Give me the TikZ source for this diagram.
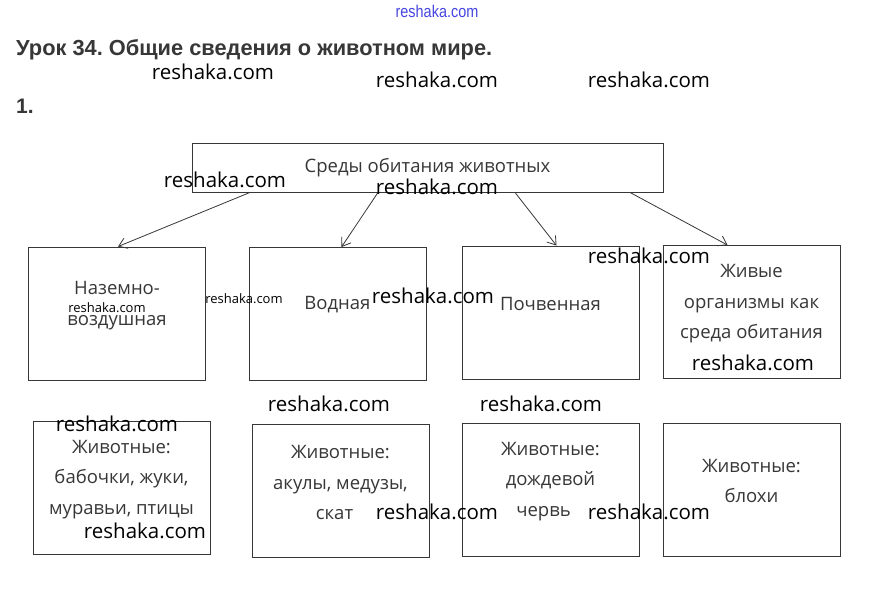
\documentclass[tikz,border=0pt]{standalone}
\usepackage{fontspec}
\setmainfont{Open Sans}
\newfontfamily\headfont{Liberation Sans}
\usepackage{xcolor}
\usepackage{tikz}
\usetikzlibrary{positioning,arrows.meta,calc}
\definecolor{inkgrey}{RGB}{55,55,55}
\definecolor{headgrey}{RGB}{55,55,55}
\definecolor{wmblue}{RGB}{70,70,225}
\tikzset{
  box/.style ={draw=inkgrey,line width=0.9pt,minimum width=177pt,minimum height=133pt,inner sep=0pt},
  txt/.style ={text=inkgrey,align=center,font=\fontsize{18.5}{30.5}\selectfont,inner sep=0pt},
  ar/.style  ={-{Straight Barb[length=8pt,width=11pt]},draw=inkgrey,line width=0.8pt},
  wm/.style  ={font=\fontsize{20.5}{22}\selectfont,text=black,inner sep=0pt},
  wms/.style ={font=\fontsize{13}{14}\selectfont,text=black,inner sep=0pt},
}
\frenchspacing

\begin{document}
\begin{tikzpicture}[x=1pt,y=-1pt]
\useasboundingbox[fill=white] (0,0) rectangle (871,593);

% heading
\node[font=\headfont\bfseries\fontsize{21.8}{24}\selectfont,text=headgrey,anchor=west,inner sep=0pt] (title) at (16,50) {Урок 34. Общие сведения о животном мире.};
\node[font=\headfont\bfseries\fontsize{21}{24}\selectfont,text=headgrey,anchor=west,inner sep=0pt] (num) at (16,106) {1.};

% top box
\node[box,minimum width=471pt,minimum height=49pt,text=inkgrey,font=\fontsize{18.5}{20}\selectfont] (top) at (427.5,167.5) {\raisebox{3pt}{Среды обитания животных}};

% habitats
\node[box] (bA) at (117,313.5) {};
\node[box] (bB) at (337.5,314) {};
\node[box] (bC) at (550.5,312.5) {};
\node[box] (bD) at (751.5,312) {};
\node[txt] (tA) at ([yshift=8pt]bA.center) {Наземно-\\воздушная};
\node[txt] (tB) at ([yshift=9pt]bB.center) {Водная};
\node[txt] (tC) at ([yshift=9pt]bC.center) {Почвенная};
\node[txt] (tD) at ([yshift=8pt]bD.center) {Живые\\организмы как\\среда обитания};

% animals
\node[box] (aE) at (121.5,487.5) {};
\node[box] (aF) at (340.5,490.5) {};
\node[box] (aG) at (550.5,489.5) {};
\node[box] (aH) at (751.5,490) {};
\node[txt] (sE) at ([yshift=8pt]aE.center) {Животные:\\бабочки, жуки,\\муравьи, птицы};
\node[txt] (sF) at ([yshift=8pt]aF.center) {Животные:\\акулы, медузы,\\\hspace*{-12pt}скат};
\node[txt] (sG) at ([yshift=8pt]aG.center) {Животные:\\дождевой\\\hspace*{-14pt}червь};
\node[txt] (sH) at ([yshift=9pt]aH.center) {Животные:\\блохи};

% arrows
\draw[ar] ([xshift=-177.5pt]top.south) -- ([xshift=1pt]bA.north);
\draw[ar] ([xshift=-49.5pt]top.south) -- ([xshift=4pt]bB.north);
\draw[ar] ([xshift=87.5pt]top.south) -- ([xshift=6pt]bC.north);
\draw[ar] ([xshift=202.5pt]top.south) -- ([xshift=-24pt]bD.north);

% watermarks
\node[font=\headfont\fontsize{17}{18}\selectfont,text=wmblue,inner sep=0pt,xscale=0.85] (wm0) at (437,11) {reshaka.com};
\node[wm] (wm1) at (213,72) {reshaka.com};
\node[wm] (wm2) at (437,80) {reshaka.com};
\node[wm] (wm3) at (649,80) {reshaka.com};
\node[wm] (wm4) at (225,180) {reshaka.com};
\node[wm] (wm5) at (437,187) {reshaka.com};
\node[wm] (wm6) at (649,256) {reshaka.com};
\node[wm] (wm7) at (433,296) {reshaka.com};
\node[wm] (wm8) at (753,363) {reshaka.com};
\node[wm] (wm9) at (329,404) {reshaka.com};
\node[wm] (wm10) at (541,404) {reshaka.com};
\node[wm] (wm11) at (117,424) {reshaka.com};
\node[wm] (wm12) at (145,531) {reshaka.com};
\node[wm] (wm13) at (437,512) {reshaka.com};
\node[wm] (wm14) at (649,512) {reshaka.com};
\node[wms] (wm15) at (107,308) {reshaka.com};
\node[wms] (wm16) at (244,299) {reshaka.com};
\end{tikzpicture}
\end{document}
